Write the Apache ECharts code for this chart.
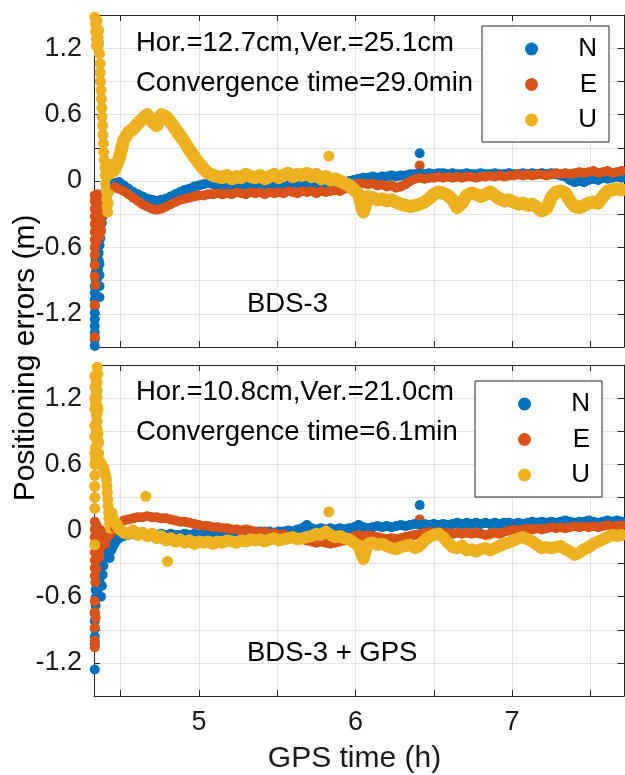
<!DOCTYPE html>
<html>
<head>
    <meta charset="utf-8">
    <title>Positioning errors</title>
    <script src="https://cdn.jsdelivr.net/npm/echarts@6.0.0/dist/echarts.min.js"></script>
    <style>
        html, body { margin: 0; padding: 0; background: #fff; }
        #main { width: 625px; height: 775px; }
    </style>
</head>
<body>
<div id="main"></div>
<script type="text/javascript">
// epochs (h) shared by the converged part of every series
var epochs = [
    4.46,4.49,4.52,4.55,4.58,4.61,4.64,4.67,4.70,4.73,
    4.76,4.79,4.82,4.85,4.88,4.91,4.94,4.97,5.00,5.03,
    5.06,5.09,5.12,5.15,5.18,5.21,5.24,5.27,5.30,5.33,
    5.36,5.39,5.42,5.45,5.48,5.51,5.54,5.57,5.60,5.63,
    5.66,5.69,5.72,5.75,5.78,5.81,5.84,5.87,5.90,5.93,
    5.96,5.99,6.02,6.05,6.08,6.11,6.14,6.17,6.20,6.23,
    6.26,6.29,6.32,6.35,6.38,6.41,6.44,6.47,6.50,6.53,
    6.56,6.59,6.62,6.65,6.68,6.71,6.74,6.77,6.80,6.83,
    6.86,6.89,6.92,6.95,6.98,7.01,7.04,7.07,7.10,7.13,
    7.16,7.19,7.22,7.25,7.28,7.31,7.34,7.37,7.40,7.43,
    7.46,7.49,7.52,7.55,7.58,7.61,7.64,7.67,7.70
];

// ---- BDS-3 (top panel) ----
var bdsN = [
    -0.02,-0.01,-0.04,-0.07,-0.10,-0.12,-0.14,-0.16,-0.17,-0.18,-0.17,-0.16,-0.14,-0.12,-0.10,-0.08,-0.07,-0.05,-0.04,-0.03,
    -0.02,-0.03,-0.03,-0.04,-0.03,-0.04,-0.03,-0.04,-0.03,-0.04,
    -0.03,-0.04,-0.03,-0.03,-0.04,-0.03,-0.04,-0.03,-0.01,-0.02,
    -0.03,-0.02,-0.03,-0.02,-0.03,-0.02,-0.02,-0.01,-0.02,-0.01,
    0.00,0.01,0.02,0.03,0.03,0.04,0.03,0.04,0.04,0.05,
    0.04,0.05,0.05,0.06,0.06,0.07,0.06,0.07,0.06,0.07,
    0.07,0.06,0.07,0.06,0.06,0.07,0.06,0.06,0.07,0.06,
    0.06,0.07,0.06,0.06,0.07,0.06,0.06,0.07,0.06,0.07,
    0.06,0.07,0.06,0.07,0.06,0.05,0.04,0.01,-0.01,0.00,
    -0.01,0.01,0.02,0.01,0.03,0.02,0.03,0.04,0.03
];
var bdsE = [
    -0.05,-0.07,-0.09,-0.12,-0.15,-0.18,-0.21,-0.23,-0.25,-0.26,-0.25,-0.23,-0.21,-0.19,-0.17,-0.16,-0.15,-0.14,-0.13,-0.13,
    -0.12,-0.12,-0.11,-0.12,-0.11,-0.12,-0.10,-0.11,-0.12,-0.10,
    -0.11,-0.10,-0.12,-0.10,-0.11,-0.10,-0.11,-0.09,-0.10,-0.11,
    -0.09,-0.10,-0.09,-0.11,-0.09,-0.10,-0.09,-0.08,-0.09,-0.07,
    -0.05,-0.03,-0.02,-0.02,-0.03,-0.02,-0.04,-0.03,-0.05,-0.04,
    -0.06,-0.05,-0.03,0.00,0.02,0.03,0.02,0.03,0.03,0.04,
    0.03,0.04,0.03,0.04,0.03,0.04,0.04,0.03,0.04,0.04,
    0.05,0.04,0.05,0.04,0.05,0.05,0.06,0.05,0.06,0.05,
    0.06,0.06,0.05,0.06,0.07,0.06,0.07,0.06,0.07,0.08,
    0.07,0.08,0.09,0.07,0.08,0.09,0.07,0.08,0.09
];
var bdsU = [
    0.10,0.20,0.37,0.44,0.47,0.52,0.56,0.60,0.54,0.50,0.60,0.58,0.53,0.47,0.41,0.35,0.28,0.22,0.16,0.11,
    0.07,0.05,0.04,0.03,0.05,0.02,0.04,0.03,0.06,0.04,
    0.03,0.05,0.02,0.04,0.06,0.03,0.05,0.07,0.04,0.06,
    0.05,0.07,0.04,0.06,0.02,0.04,0.01,0.02,0.00,-0.02,
    -0.04,-0.08,-0.12,-0.28,-0.14,-0.15,-0.17,-0.16,-0.18,-0.17,
    -0.19,-0.21,-0.22,-0.23,-0.22,-0.21,-0.19,-0.16,-0.12,-0.10,
    -0.11,-0.13,-0.17,-0.24,-0.20,-0.13,-0.11,-0.12,-0.14,-0.12,
    -0.10,-0.13,-0.16,-0.18,-0.17,-0.19,-0.21,-0.20,-0.22,-0.21,
    -0.24,-0.27,-0.25,-0.15,-0.10,-0.09,-0.11,-0.18,-0.23,-0.24,
    -0.22,-0.20,-0.19,-0.20,-0.14,-0.09,-0.08,-0.07,-0.08
];
// convergence period and isolated points, [time, error]
var bdsNEarly = [
    [4.335,-1.49],[4.335,-1.43],[4.335,-1.37],[4.335,-1.31],[4.335,-1.25],[4.335,-1.19],[4.335,-1.13],
    [4.335,-1.07],[4.335,-1.01],[4.335,-0.95],[4.34,-0.89],[4.34,-0.83],[4.34,-0.77],[4.34,-0.71],
    [4.345,-0.66],[4.35,-0.95],[4.35,-0.88],[4.355,-0.80],[4.36,-0.72],[4.36,-0.65],[4.365,-0.75],
    [4.365,-0.85],[4.365,-0.95],[4.365,-1.05],[4.365,-0.58],[4.37,-0.52],[4.375,-0.45],[4.38,-0.38],
    [4.385,-0.32],[4.39,-0.27],[4.40,-0.22],[4.41,-0.16],[4.42,-0.11],[4.43,-0.06],[4.44,-0.03],
    [4.45,-0.02],[6.41,0.25]
];
var bdsEEarly = [
    [4.335,-0.67],[4.335,-0.76],[4.335,-0.86],[4.34,-0.94],[4.335,-1.12],[4.335,-1.41],
    [4.335,-0.60],[4.335,-0.53],[4.335,-0.46],[4.335,-0.39],[4.335,-0.32],[4.335,-0.25],[4.335,-0.18],
    [4.335,-0.13],[4.345,-0.55],[4.345,-0.47],[4.345,-0.39],[4.345,-0.31],[4.345,-0.23],[4.345,-0.15],
    [4.355,-0.50],[4.355,-0.42],[4.355,-0.34],[4.355,-0.26],[4.355,-0.18],[4.355,-0.12],
    [4.365,-0.50],[4.365,-0.42],[4.365,-0.34],[4.365,-0.26],[4.365,-0.18],[4.365,-0.14],
    [4.375,-0.45],[4.375,-0.37],[4.375,-0.29],[4.375,-0.21],[4.375,-0.16],
    [4.385,-0.30],[4.385,-0.22],[4.385,-0.14],[4.395,-0.22],[4.395,-0.13],
    [4.405,-0.15],[4.405,-0.08],[4.415,-0.10],[4.425,-0.07],[4.435,-0.08],[4.445,-0.06],[6.41,0.14]
];
var bdsUEarly = [
    [4.335,1.48],[4.34,1.42],[4.34,1.35],[4.345,1.28],[4.345,1.22],[4.35,1.45],[4.35,1.38],
    [4.355,1.30],[4.355,1.22],[4.36,1.36],[4.36,1.25],[4.365,1.15],[4.37,1.06],[4.37,0.98],
    [4.372,0.90],[4.375,0.82],[4.377,0.74],[4.38,0.66],[4.382,0.58],[4.385,0.50],[4.387,0.42],
    [4.39,0.34],[4.392,0.26],[4.395,0.19],[4.40,0.12],[4.402,0.05],[4.405,-0.02],[4.408,-0.09],
    [4.41,-0.16],[4.413,-0.23],[4.417,-0.28],[4.42,-0.20],[4.423,-0.10],[4.426,0.00],[4.43,0.08],
    [4.435,0.12],[4.44,0.15],[4.445,0.10],[4.45,0.14],[4.455,0.08],[5.83,0.225]
];

// ---- BDS-3 + GPS (bottom panel) ----
var bgN = [
    -0.12,-0.07,-0.05,-0.04,-0.03,-0.04,-0.03,-0.04,-0.03,-0.04,-0.03,-0.04,-0.03,-0.04,-0.04,-0.03,-0.04,-0.03,-0.04,-0.03,
    -0.04,-0.03,-0.04,-0.03,-0.03,-0.02,-0.03,-0.02,-0.03,-0.02,
    -0.02,-0.01,-0.02,-0.01,-0.02,-0.01,-0.01,0.00,-0.01,0.01,
    0.02,0.05,0.02,0.01,0.02,0.01,0.02,0.01,0.02,0.01,
    0.02,0.03,0.05,0.03,0.02,0.03,0.04,0.03,0.04,0.03,
    0.04,0.05,0.04,0.05,0.06,0.05,0.06,0.05,0.06,0.05,
    0.06,0.05,0.06,0.07,0.06,0.07,0.06,0.07,0.06,0.07,
    0.06,0.07,0.06,0.07,0.07,0.06,0.07,0.06,0.07,0.08,
    0.07,0.08,0.07,0.08,0.07,0.08,0.09,0.08,0.07,0.08,
    0.08,0.09,0.08,0.07,0.08,0.09,0.08,0.09,0.08
];
var bgE = [
    0.02,0.06,0.09,0.10,0.11,0.12,0.12,0.13,0.12,0.12,0.11,0.11,0.10,0.09,0.08,0.08,0.07,0.06,0.05,0.04,
    0.04,0.03,0.03,0.02,0.02,0.01,0.01,0.00,0.01,0.00,
    -0.01,-0.02,-0.01,-0.03,-0.02,-0.04,-0.03,-0.05,-0.06,-0.07,
    -0.08,-0.09,-0.10,-0.11,-0.10,-0.11,-0.12,-0.11,-0.10,-0.09,
    -0.07,-0.05,-0.04,-0.05,-0.04,-0.05,-0.06,-0.07,-0.08,-0.07,
    -0.08,-0.07,-0.06,-0.05,-0.04,-0.03,-0.02,-0.01,-0.02,-0.01,
    -0.02,-0.02,-0.03,-0.02,-0.03,-0.02,-0.03,-0.02,-0.03,-0.04,
    -0.03,-0.02,-0.03,-0.01,0.00,0.01,0.00,0.01,0.02,0.01,
    0.02,0.01,0.02,0.03,0.02,0.03,0.02,0.03,0.04,0.03,
    0.04,0.03,0.04,0.03,0.04,0.05,0.04,0.04,0.05
];
var bgU = [
    0.08,0.02,-0.02,-0.03,0.00,-0.04,-0.02,-0.05,-0.03,-0.07,-0.05,-0.09,-0.07,-0.10,-0.08,-0.11,-0.09,-0.12,-0.10,-0.11,
    -0.10,-0.12,-0.10,-0.11,-0.09,-0.10,-0.11,-0.09,-0.10,-0.08,
    -0.09,-0.08,-0.10,-0.08,-0.07,-0.09,-0.08,-0.07,-0.06,-0.08,
    -0.07,-0.06,-0.05,-0.03,-0.04,-0.01,-0.04,-0.06,-0.05,-0.07,
    -0.08,-0.11,-0.14,-0.26,-0.12,-0.11,-0.13,-0.12,-0.14,-0.16,
    -0.17,-0.15,-0.14,-0.13,-0.16,-0.14,-0.09,-0.06,-0.04,-0.03,
    -0.06,-0.11,-0.15,-0.16,-0.14,-0.18,-0.17,-0.19,-0.17,-0.16,
    -0.18,-0.16,-0.14,-0.12,-0.11,-0.09,-0.07,-0.06,-0.08,-0.10,
    -0.13,-0.16,-0.15,-0.16,-0.15,-0.14,-0.17,-0.19,-0.22,-0.20,
    -0.17,-0.15,-0.12,-0.10,-0.08,-0.06,-0.04,-0.05,-0.04
];
var bgNEarly = [
    [4.335,-1.26],[4.335,-1.03],[4.335,-0.96],[4.335,-0.89],[4.335,-0.82],[4.335,-0.75],[4.34,-0.68],
    [4.34,-0.61],[4.34,-0.54],[4.34,-0.47],[4.345,-0.40],[4.345,-0.32],[4.35,-0.25],[4.355,-0.60],
    [4.36,-0.52],[4.365,-0.45],[4.37,-0.38],[4.375,-0.60],[4.38,-0.50],[4.385,-0.40],[4.39,-0.32],
    [4.395,-0.25],[4.40,-0.20],[4.41,-0.15],[4.42,-0.20],[4.43,-0.25],[4.44,-0.18],[4.45,-0.15],
    [6.41,0.23]
];
var bgEEarly = [
    [4.335,0.08],[4.335,0.01],[4.335,-0.06],[4.335,-0.13],[4.335,-0.20],[4.335,-0.27],[4.335,-0.34],
    [4.335,-0.41],[4.34,-0.47],[4.335,-0.64],[4.335,-0.74],[4.34,-0.79],[4.335,-0.88],[4.335,-1.00],
    [4.335,-1.06],[4.345,0.05],[4.345,-0.03],[4.345,-0.11],[4.345,-0.19],[4.345,-0.27],[4.345,-0.35],
    [4.355,0.02],[4.355,-0.06],[4.355,-0.14],[4.355,-0.22],[4.365,-0.02],[4.365,-0.10],[4.365,-0.18],
    [4.365,-0.24],[4.375,0.00],[4.375,-0.08],[4.375,-0.14],[4.385,-0.05],[4.385,-0.13],[4.395,-0.08],
    [4.405,-0.12],[4.415,-0.06],[4.425,-0.10],[4.435,-0.05],[4.445,-0.02],[6.41,0.10]
];
var bgUEarly = [
    [4.335,1.40],[4.335,1.30],[4.335,1.20],[4.335,1.10],[4.335,0.95],[4.335,0.85],[4.335,0.70],
    [4.335,0.60],[4.335,0.50],[4.335,0.40],[4.335,0.30],[4.335,0.20],[4.335,-0.13],[4.34,1.15],
    [4.34,0.75],[4.34,0.65],[4.345,1.35],[4.345,1.25],[4.345,1.05],[4.345,0.90],[4.345,0.70],
    [4.35,1.48],[4.35,1.41],[4.35,1.34],[4.35,1.27],[4.35,1.20],[4.35,1.13],[4.35,1.06],[4.35,0.99],
    [4.35,0.92],[4.35,0.85],[4.35,0.78],[4.35,0.71],[4.355,1.42],[4.355,1.10],[4.355,0.88],[4.355,0.66],
    [4.36,0.80],[4.36,0.70],[4.36,0.62],[4.365,0.60],[4.37,0.62],[4.375,0.60],[4.38,0.60],[4.385,0.58],
    [4.39,0.57],[4.395,0.55],[4.40,0.52],[4.405,0.49],[4.41,0.46],[4.413,0.40],[4.415,0.34],
    [4.418,0.28],[4.42,0.22],[4.423,0.16],[4.425,0.11],[4.43,0.06],[4.435,0.02],[4.44,0.10],
    [4.445,0.16],[4.45,0.12],[4.455,0.05],
    [4.66,0.31],[4.80,-0.28],[5.83,0.17],[6.41,-0.03],[6.85,-0.04]
];

var xTicks = [4.5, 5, 5.5, 6, 6.5, 7, 7.5];
var xLabels = [5, 6, 7];
var colors = ['#0072BD', '#D95319', '#EDB120'];
var font = "'Liberation Sans', Arial, Helvetica, sans-serif";

function zip(vals) {
    var out = [];
    for (var i = 0; i < vals.length; i++) out.push([epochs[i], vals[i]]);
    return out;
}

var myChart = echarts.init(document.getElementById('main'), null, {renderer: 'canvas'});

var gridLine = {show: true, lineStyle: {color: '#e3e3e3', width: 1}};
var tickStyle = {show: true, inside: true, length: 6, lineStyle: {color: '#262626'}};
var axisLineStyle = {show: true, onZero: false, lineStyle: {color: '#262626', width: 1}};

function xAx(grid, pos, labels, split) {
    return {
        type: 'value', gridIndex: grid, position: pos, min: 4.33, max: 7.715,
        axisLine: axisLineStyle,
        axisTick: Object.assign({customValues: xTicks}, tickStyle),
        axisLabel: {show: labels, customValues: xLabels, fontSize: 27, fontFamily: font, color: '#1a1a1a', margin: 13},
        splitLine: split ? gridLine : {show: false}
    };
}
function yAx(grid, pos, labels) {
    return {
        type: 'value', gridIndex: grid, position: pos, min: -1.5, max: 1.5, interval: 0.3,
        axisLine: axisLineStyle,
        axisTick: tickStyle,
        axisLabel: {
            show: labels, fontSize: 27, fontFamily: font, color: '#1a1a1a', margin: 12,
            formatter: function (v) {
                var k = Math.round(v * 10);
                return (k % 6 === 0) ? String(k / 10) : '';
            }
        },
        splitLine: labels ? gridLine : {show: false}
    };
}

// scatter dots for every epoch plus a thick trace behind them so the band stays continuous
function dots(name, color, ax, early, vals, size) {
    return {
        name: name, type: 'scatter', xAxisIndex: ax, yAxisIndex: ax,
        symbol: 'circle', symbolSize: size, data: early.concat(zip(vals)),
        itemStyle: {color: color, opacity: 1}, silent: true
    };
}
function band(name, color, ax, vals, width) {
    return {
        name: name, type: 'line', xAxisIndex: ax, yAxisIndex: ax, data: zip(vals),
        showSymbol: false, silent: true, smooth: false,
        lineStyle: {color: color, width: width, cap: 'round', join: 'round'}
    };
}

function legendAt(top, left) {
    return {
        top: top, left: left, orient: 'vertical', data: ['N', 'E', 'U'],
        icon: 'circle', itemWidth: 13, itemHeight: 13, itemGap: 9.5,
        padding: [10, 12, 9, 43], borderColor: '#262626', borderWidth: 1,
        backgroundColor: '#fff', selectedMode: false,
        formatter: '{a|{name}}',
        textStyle: {
            fontSize: 26, fontFamily: font, color: '#000', lineHeight: 26,
            rich: {a: {width: 54, align: 'right', fontSize: 26, fontFamily: font, lineHeight: 26}}
        }
    };
}

function label(x, y, text, size, rot) {
    return {
        type: 'text', x: x, y: y, rotation: rot || 0, z: 100,
        style: {text: text, fontSize: size, fontFamily: font, fill: '#000',
                align: rot ? 'center' : 'left', verticalAlign: 'middle'}
    };
}

var option = {
    animation: false,
    backgroundColor: '#fff',
    color: colors,
    grid: [
        {left: 94, top: 15, right: 1, height: 332},
        {left: 94, top: 365, right: 1, height: 331}
    ],
    xAxis: [
        xAx(0, 'bottom', false, true),
        Object.assign(xAx(1, 'bottom', true, true), {
            name: 'GPS time (h)', nameLocation: 'middle', nameGap: 48,
            nameTextStyle: {fontSize: 30, fontFamily: font, color: '#1a1a1a', padding: [0, 9, 0, 0]}
        }),
        xAx(0, 'top', false, false),
        xAx(1, 'top', false, false)
    ],
    yAxis: [
        yAx(0, 'left', true),
        yAx(1, 'left', true),
        yAx(0, 'right', false),
        yAx(1, 'right', false)
    ],
    legend: [legendAt(26, 482), legendAt(381, 475)],
    graphic: [
        label(136, 43, 'Hor.=12.7cm,Ver.=25.1cm', 27.5),
        label(136, 83, 'Convergence time=29.0min', 27.5),
        label(247, 304, 'BDS-3', 27.5),
        label(136, 392, 'Hor.=10.8cm,Ver.=21.0cm', 27.5),
        label(136, 432, 'Convergence time=6.1min', 27.5),
        label(247, 653, 'BDS-3 + GPS', 27.5),
        label(26, 358, 'Positioning errors (m)', 30, Math.PI / 2)
    ],
    series: [
        dots('N', colors[0], 0, bdsNEarly, bdsN, 10),
        band('N', colors[0], 0, bdsN, 9),
        dots('E', colors[1], 0, bdsEEarly, bdsE, 10),
        band('E', colors[1], 0, bdsE, 9),
        dots('U', colors[2], 0, bdsUEarly, bdsU, 11),
        band('U', colors[2], 0, bdsU, 13),
        dots('N', colors[0], 1, bgNEarly, bgN, 10),
        band('N', colors[0], 1, bgN, 9),
        dots('E', colors[1], 1, bgEEarly, bgE, 10),
        band('E', colors[1], 1, bgE, 9),
        dots('U', colors[2], 1, bgUEarly, bgU, 11),
        band('U', colors[2], 1, bgU, 12)
    ]
};
myChart.setOption(option);
</script>
</body>
</html>
